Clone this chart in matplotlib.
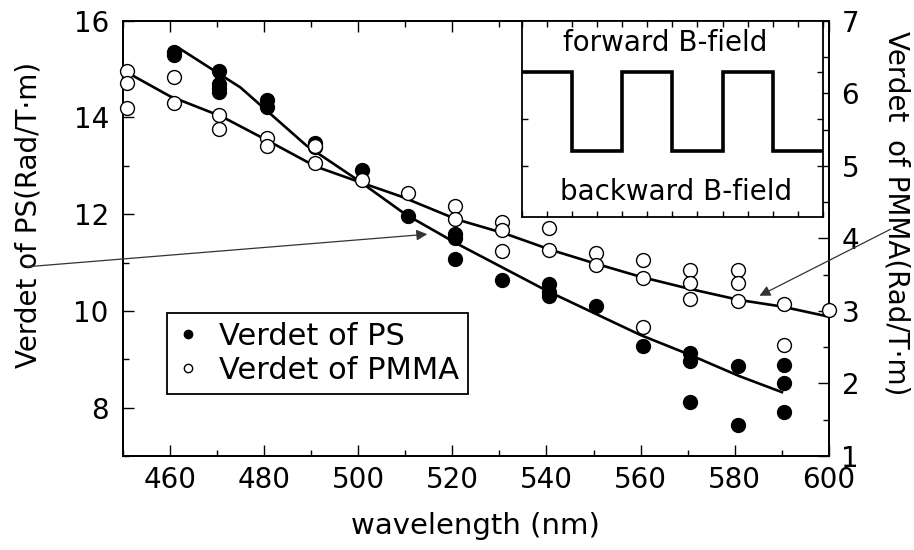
import matplotlib
matplotlib.use('Agg')
import matplotlib.pyplot as plt
from matplotlib.ticker import MultipleLocator
from matplotlib.patches import FancyArrowPatch
from matplotlib.lines import Line2D

plt.rcParams['font.family'] = ['DejaVu Sans']

# ---- data ----
ps_wl = [460.8, 460.8, 470.5, 470.5, 470.5, 470.5, 480.7, 480.7, 490.9, 490.9, 500.8,
         510.6, 520.6, 520.6, 520.6, 530.6, 540.6, 540.6, 540.6, 550.5, 560.4, 570.5,
         570.5, 570.5, 580.7, 580.7, 590.4, 590.4, 590.4]
ps_v = [15.36, 15.29, 14.95, 14.70, 14.60, 14.53, 14.36, 14.22, 13.47, 13.39, 12.91,
        11.97, 11.60, 11.51, 11.08, 10.63, 10.56, 10.40, 10.30, 10.11, 9.28, 9.12,
        8.96, 8.11, 8.86, 7.65, 8.89, 8.50, 7.90]

pmma_wl = [451, 451, 451, 460.8, 460.8, 470.5, 470.5, 480.7, 480.7, 490.9, 490.9, 500.8,
           510.6, 520.6, 520.6, 530.6, 530.6, 530.6, 540.6, 540.6, 550.5, 550.5, 560.4,
           560.4, 560.4, 570.5, 570.5, 570.5, 580.7, 580.7, 580.7, 590.4, 590.4, 600]
pmma_v = [6.30, 6.14, 5.80, 6.23, 5.86, 5.70, 5.51, 5.38, 5.27, 5.27, 5.04, 4.81, 4.62,
          4.44, 4.26, 4.23, 4.12, 3.82, 4.14, 3.84, 3.80, 3.63, 3.70, 3.45, 2.78, 3.57,
          3.38, 3.16, 3.57, 3.38, 3.13, 3.10, 2.53, 3.01]

ps_fit_wl = [462, 475, 489, 500, 510, 521, 540, 560, 570, 581, 590]
ps_fit_v = [15.43, 14.62, 13.42, 12.70, 12.00, 11.39, 10.42, 9.50, 9.11, 8.65, 8.32]

pmma_fit_wl = [450, 460, 471, 481, 491, 501, 509, 521, 531, 541, 550, 560, 570, 581, 590, 600]
pmma_fit_v = [6.32, 5.96, 5.68, 5.34, 4.99, 4.76, 4.58, 4.26, 4.07, 3.84, 3.66, 3.47,
              3.31, 3.15, 3.06, 2.92]

# inset: field switching (forward = 1, backward = 0)
inset_edges = [0, 1, 2, 3, 4, 5, 6]
inset_levels = [1, 0, 1, 0, 1, 0]

x_label = 'wavelength (nm)'
y_left_label = 'Verdet of PS(Rad/T\u00b7m)'
y_right_label = 'Verdet  of PMMA(Rad/T\u00b7m)'
legend_labels = ['Verdet of PS', 'Verdet of PMMA']

# ---- figure ----
W, H = 914, 550
fig = plt.figure(figsize=(W / 100, H / 100), dpi=100)
fig.patch.set_facecolor('white')

L, R, T, B = 122.7, 829.0, 20.7, 456.0
ax = fig.add_axes([L / W, 1 - B / H, (R - L) / W, (B - T) / H])
ax2 = ax.twinx()

ms = 10
ax.plot(ps_fit_wl, ps_fit_v, color='black', lw=1.9, zorder=2)
ax2.plot(pmma_fit_wl, pmma_fit_v, color='black', lw=1.9, zorder=2)
ax.plot(ps_wl, ps_v, 'o', ms=ms, mfc='black', mec='black', zorder=3, clip_on=False)
ax2.plot(pmma_wl, pmma_v, 'o', ms=ms, mfc='white', mec='black', mew=1.0, zorder=3,
         clip_on=False)

ax.set_xlim(450, 600)
ax.set_ylim(7, 16)
ax2.set_ylim(1, 7)

ax.set_xticks(range(460, 601, 20))
ax.xaxis.set_minor_locator(MultipleLocator(10))
ax.yaxis.set_major_locator(MultipleLocator(2))
ax.yaxis.set_minor_locator(MultipleLocator(1))
ax2.yaxis.set_major_locator(MultipleLocator(1))
ax2.yaxis.set_minor_locator(MultipleLocator(0.5))

fs = 20
ax.tick_params(axis='both', which='both', direction='in', width=1.0, top=True,
               labelsize=fs, colors='black')
ax.tick_params(axis='both', which='major', length=8)
ax.tick_params(axis='both', which='minor', length=4)
ax.tick_params(axis='y', pad=10)
ax.tick_params(axis='x', pad=7)
ax2.tick_params(axis='y', which='both', direction='in', width=1.0, labelsize=fs, pad=9)
ax2.tick_params(axis='y', which='major', length=8)
ax2.tick_params(axis='y', which='minor', length=4)

for a in (ax, ax2):
    for s in a.spines.values():
        s.set_linewidth(1.3)
        s.set_color('black')

ax.set_xlabel(x_label, fontsize=21)
ax.xaxis.set_label_coords(0.5, -0.128)
ax.set_ylabel(y_left_label, fontsize=fs)
ax.yaxis.set_label_coords(-0.113, 0.554)
ax2.set_ylabel(y_right_label, fontsize=fs, rotation=-90, va='center')
ax2.yaxis.set_label_coords(1.096, 0.558)

# legend
h1 = Line2D([], [], ls='none', marker='o', ms=6, mfc='black', mec='black')
h2 = Line2D([], [], ls='none', marker='o', ms=6, mfc='white', mec='black', mew=1.0)
leg = ax2.legend([h1, h2], legend_labels, loc='upper left',
                 bbox_to_anchor=(167 / W, 1 - 313 / H), bbox_transform=fig.transFigure,
                 fontsize=22, frameon=True, fancybox=False, framealpha=1,
                 edgecolor='black', handlelength=0.8, handletextpad=0.6,
                 borderpad=0.3, labelspacing=0.15, borderaxespad=0)
leg.get_frame().set_linewidth(1.3)

# arrows (figure pixel positions)
def fpt(x, y):
    return (x / W, 1 - y / H)

for tail, head in [((24, 267), (430, 234)), ((893, 228), (757, 297))]:
    arr = FancyArrowPatch(fpt(*tail), fpt(*head), transform=fig.transFigure,
                          arrowstyle='-|>', mutation_scale=16, lw=0.9,
                          color='#333333', zorder=10)
    fig.add_artist(arr)

# inset
iL, iR, iT, iB = 521.7, 823.0, 20.7, 216.7
axi = fig.add_axes([iL / W, 1 - iB / H, (iR - iL) / W, (iB - iT) / H])
axi.set_zorder(5)
axi.stairs(inset_levels, inset_edges, baseline=None, color='black', lw=2.6)
axi.set_xlim(0, 6)
axi.set_ylim(-0.836, 1.645)
axi.set_xticks([i * 0.5 for i in range(13)])
axi.set_yticks([-0.2, 0.4, 1.0])
axi.tick_params(which='both', direction='in', length=4, width=1.0, top=True,
                right=True, labelbottom=False, labelleft=False)
for s in axi.spines.values():
    s.set_linewidth(1.3)
axi.text(0.476, 0.886, 'forward B-field', transform=axi.transAxes, ha='center',
         va='center', fontsize=20)
axi.text(0.512, 0.126, 'backward B-field', transform=axi.transAxes, ha='center',
         va='center', fontsize=20)

fig.savefig('out.png', dpi=100, facecolor='white')
